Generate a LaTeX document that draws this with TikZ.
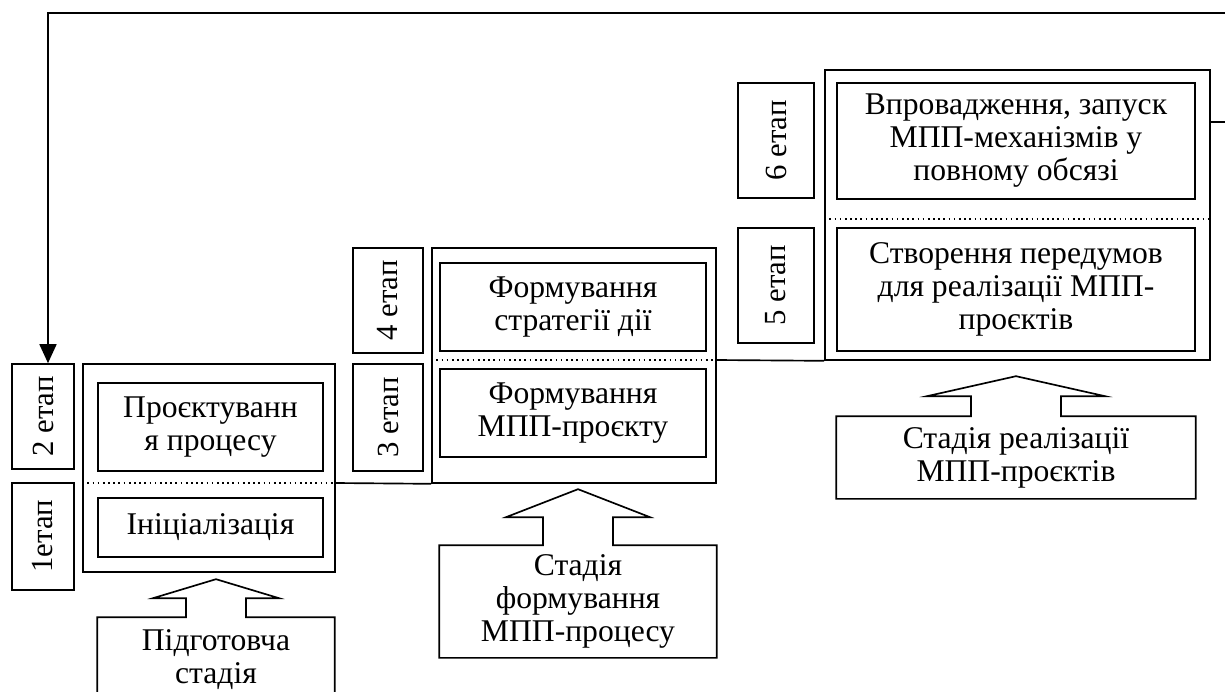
\documentclass[tikz,border=0pt]{standalone}
\usepackage{fontspec}
\setmainfont{Liberation Serif}
\usetikzlibrary{arrows.meta, calc}

\begin{document}
\begin{tikzpicture}[x=0.02cm, y=-0.02cm, line width=0.95pt,
  font=\fontsize{18}{18.8}\selectfont,
  etap/.style={draw, rotate=90, inner sep=0pt, minimum width=2.1cm, font=\fontsize{17.5}{18}\selectfont},
  frame/.style={draw, inner sep=0pt},
  stepbox/.style={draw, align=center, inner sep=0pt},
  stage/.style={align=center, inner sep=0pt}]
  \useasboundingbox (0,0) rectangle (1225,691);
  \clip (0,0) rectangle (1225,691);

  % stage 1 (preparation)
  \node[etap, minimum height=1.24cm] (e2) at (43,416.5) {2 етап};
  \node[etap, minimum height=1.24cm, minimum width=2.14cm] (e1) at (43,536.5) {1етап};
  \node[frame, minimum width=5.04cm, minimum height=4.16cm] (outer1) at (209,468) {};
  \node[stepbox, minimum width=4.5cm, minimum height=1.76cm] (p2) at (210.5,427) {Проєктуванн\\я процесу};
  \node[stepbox, minimum width=4.5cm, minimum height=1.18cm] (p1) at (210.5,527.5) {Ініціалізація};
  \node[stage, minimum width=4.72cm, minimum height=1.68cm] (s1) at (216,660) {Підготовча\\стадія};

  % stage 2 (forming)
  \node[etap, minimum height=1.4cm] (e4) at (388,300.5) {4 етап};
  \node[etap, minimum height=1.4cm, minimum width=2.14cm] (e3) at (388,417.5) {3 етап};
  \node[frame, minimum width=5.68cm, minimum height=4.7cm] (outer2) at (574,365.5) {};
  \node[stepbox, minimum width=5.32cm, minimum height=1.76cm] (p4) at (573,307) {Формування\\стратегії дії};
  \node[stepbox, minimum width=5.32cm, minimum height=1.76cm] (p3) at (573,413) {Формування\\МПП-проєкту};
  \node[stage, minimum width=5.52cm, minimum height=2.22cm] (s2) at (578,601.5) {Стадія\\формування\\МПП-процесу};

  % stage 3 (realisation)
  \node[etap, minimum height=1.52cm, minimum width=2.3cm] (e6) at (776,140.5) {6 етап};
  \node[etap, minimum height=1.52cm, minimum width=2.3cm] (e5) at (776,285.5) {5 етап};
  \node[frame, minimum width=7.7cm, minimum height=5.8cm] (outer3) at (1017.5,215) {};
  \node[stepbox, minimum width=7.16cm, minimum height=2.32cm] (p6) at (1016,141) {Впровадження, запуск\\МПП-механізмів у\\повному обсязі};
  \node[stepbox, minimum width=7.16cm, minimum height=2.46cm] (p5) at (1016,289.5) {Створення передумов\\для реалізації МПП-\\проєктів};
  \node[stage, minimum width=7.16cm, minimum height=1.62cm] (s3) at (1016,457.5) {Стадія реалізації\\МПП-проєктів};

  % dividers and steps between frames
  \draw[dotted] (outer1.west |- 0,483) -- (outer1.east |- 0,483);
  \draw (outer1.east |- 0,483) -- (outer2.south west);
  \draw[dotted] (outer2.west |- 0,360) -- (outer2.east |- 0,360);
  \draw (outer2.east |- 0,360) -- (outer3.south west);
  \draw[dotted] (outer3.west |- 0,219) -- (outer3.east |- 0,219);

  % block arrows from stages
  \foreach \s/\sh/\hh/\h in {s1/30/63/19, s2/35/72/28, s3/45/89/20}
    \draw (\s.south west) -- (\s.north west) -- ($(\s.north)+(-\sh,0)$) -- ++(0,-\h)
      -- ++(\sh-\hh,0) -- ($(\s.north)+(0,-2*\h)$) -- ($(\s.north)+(\hh,-\h)$)
      -- ++(\sh-\hh,0) -- ($(\s.north)+(\sh,0)$) -- (\s.north east) -- (\s.south east) -- cycle;

  % feedback loop
  \draw[-{Triangle[length=0.38cm,width=0.34cm]}] (outer3.east |- 0,122) -- (1240,122)
    |- (48,13) -- ([xshift=0.1cm]e2.east);
\end{tikzpicture}
\end{document}
